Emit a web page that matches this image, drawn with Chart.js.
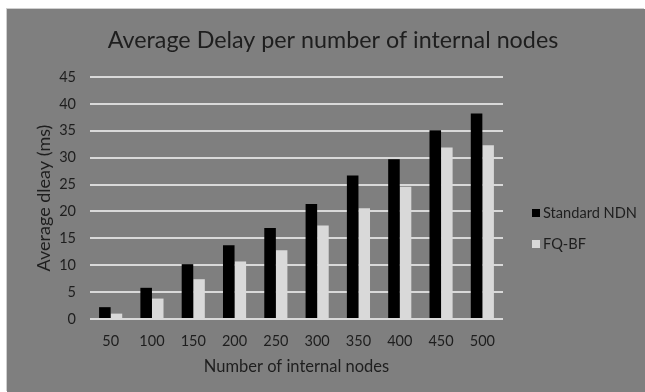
<!DOCTYPE html>
<html>
<head>
<meta charset="utf-8">
<script src="https://cdn.jsdelivr.net/npm/chart.js@4.4.0/dist/chart.umd.min.js"></script>
<style>
  html, body { margin: 0; padding: 0; background: #ffffff; }
  #frame {
    position: absolute; left: 7px; top: 9px; width: 638px; height: 383px;
    background: #7f7f7f; box-shadow: -1px -1px 0 #cfcfcf;
  }
  canvas { display: block; }
</style>
</head>
<body>
<div id="frame"><canvas id="c" width="638" height="383"></canvas></div>
<script>
// Chart text
const chartTitle = 'Average Delay per number of internal nodes';
const xAxisTitle = 'Number of internal nodes';
const yAxisTitle = 'Average dleay (ms)';

// Number of internal nodes
const categories = ['50', '100', '150', '200', '250', '300', '350', '400', '450', '500'];

// Average delay in ms
const standardNdn = [2.2, 5.8, 10.2, 13.7, 16.9, 21.4, 26.7, 29.7, 35.1, 38.2];
const fqBf = [1.0, 3.8, 7.4, 10.7, 12.8, 17.4, 20.6, 24.6, 31.9, 32.3];

// Value axis range and step
const yMin = 0;
const yMax = 45;
const yStep = 5;

const FONT = 'Lato, "Open Sans", sans-serif';
const TEXT = '#1e1e1e';

// Title above the plot and legend at the right, drawn on the canvas
const decorations = {
  id: 'decorations',
  afterDraw(chart) {
    const ctx = chart.ctx;
    ctx.save();
    ctx.fillStyle = TEXT;
    ctx.textAlign = 'center';
    ctx.textBaseline = 'middle';
    ctx.font = '23.3px ' + FONT;
    ctx.fillText(chartTitle, 326, 31);

    ctx.font = '14.6px ' + FONT;
    ctx.textAlign = 'left';
    chart.data.datasets.forEach((ds, i) => {
      const cy = 204 + i * 31;
      ctx.fillStyle = ds.backgroundColor;
      ctx.fillRect(525, cy - 4, 8, 8);
      ctx.fillStyle = TEXT;
      ctx.fillText(ds.label, 536, cy);
    });
    ctx.restore();
  }
};

new Chart(document.getElementById('c'), {
  type: 'bar',
  data: {
    labels: categories,
    datasets: [
      { label: 'Standard NDN', data: standardNdn, backgroundColor: '#000000', borderWidth: 0 },
      { label: 'FQ-BF', data: fqBf, backgroundColor: '#d9d9d9', borderWidth: 0 }
    ]
  },
  options: {
    responsive: false,
    animation: false,
    devicePixelRatio: 1,
    layout: { padding: { left: 0, right: 142, top: 68, bottom: 0 } },
    datasets: { bar: { categoryPercentage: 0.56, barPercentage: 1.0 } },
    plugins: {
      legend: { display: false },
      title: { display: false },
      tooltip: { enabled: false }
    },
    scales: {
      x: {
        grid: { display: false, drawTicks: false },
        border: { display: false },
        ticks: { color: TEXT, font: { family: FONT, size: 14.5 }, padding: 14 },
        title: {
          display: true, text: xAxisTitle, color: TEXT,
          font: { family: FONT, size: 16.5 }, padding: { top: 0, bottom: 15.4 }
        },
        afterFit(scale) { scale.height = 73; }
      },
      y: {
        min: yMin,
        max: yMax,
        grid: { color: '#d9d9d9', lineWidth: 2, drawTicks: false },
        border: { display: false },
        ticks: { stepSize: yStep, color: TEXT, font: { family: FONT, size: 14.5 }, padding: 14 },
        title: {
          display: true, text: yAxisTitle, color: TEXT,
          font: { family: FONT, size: 18 }, padding: { top: 26, bottom: 0 }
        },
        afterFit(scale) { scale.width = 83; }
      }
    }
  },
  plugins: [decorations]
});
</script>
</body>
</html>
